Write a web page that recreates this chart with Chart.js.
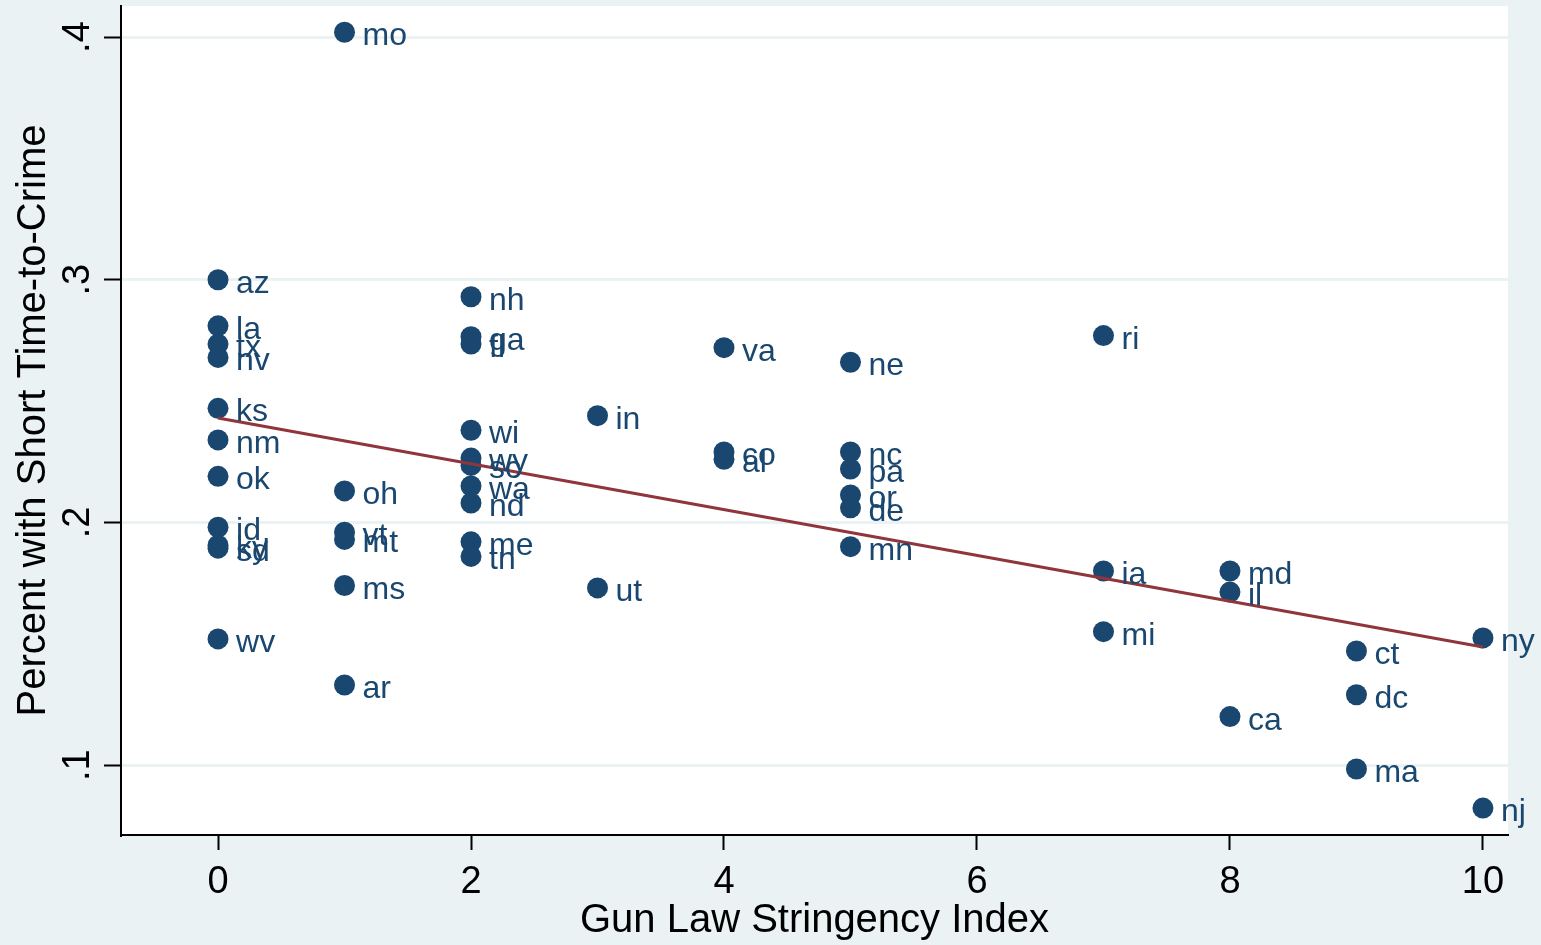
<!DOCTYPE html>
<html>
<head>
<meta charset="utf-8">
<script src="https://cdn.jsdelivr.net/npm/chart.js@4"></script>
<style>
  html, body { margin: 0; padding: 0; background: #eaf2f3; }
  #wrap { width: 1541px; height: 945px; }
</style>
</head>
<body>
<div id="wrap"><canvas id="chart" width="1541" height="945"></canvas></div>
<script>
// State abbreviations, gun law index and share with short time-to-crime
const states = ["az", "la", "tx", "nv", "ks", "nm", "ok", "id", "ky", "sd", "wv",
  "mo", "oh", "vt", "mt", "ms", "ar",
  "nh", "ga", "fl", "wi", "wy", "sc", "wa", "nd", "me", "tn",
  "in", "ut",
  "va", "co", "al",
  "ne", "nc", "pa", "or", "de", "mn",
  "ri", "ia", "mi",
  "md", "il", "ca",
  "ct", "dc", "ma",
  "ny", "nj"];
const lawIndex = [0, 0, 0, 0, 0, 0, 0, 0, 0, 0, 0,
  1, 1, 1, 1, 1, 1,
  2, 2, 2, 2, 2, 2, 2, 2, 2, 2,
  3, 3,
  4, 4, 4,
  5, 5, 5, 5, 5, 5,
  7, 7, 7,
  8, 8, 8,
  9, 9, 9,
  10, 10];
const shortTime = [0.300, 0.281, 0.2735, 0.268, 0.247, 0.234, 0.219, 0.198, 0.1906, 0.1894, 0.152,
  0.402, 0.213, 0.196, 0.193, 0.174, 0.133,
  0.293, 0.2765, 0.2735, 0.238, 0.2265, 0.2235, 0.215, 0.208, 0.192, 0.186,
  0.244, 0.173,
  0.272, 0.229, 0.226,
  0.266, 0.229, 0.222, 0.2113, 0.206, 0.190,
  0.277, 0.180, 0.155,
  0.180, 0.1713, 0.120,
  0.147, 0.129, 0.0984,
  0.1524, 0.0823];
// fitted line end points
const fitX = [0, 10];
const fitY = [0.243, 0.1487];
const xTicks = [0, 2, 4, 6, 8, 10];
const yTicks = [0.1, 0.2, 0.3, 0.4];

const navy = "#1a476f";
const maroon = "#90353b";
const bg = "#eaf2f3";
const font = "'Liberation Sans', Arial, sans-serif";

const fitPoints = fitX.map((x, i) => ({ x: x, y: fitY[i] }));
const points = lawIndex.map((x, i) => ({ x: x, y: shortTime[i] }));

// white plot region, labels, rotated y ticks and titles
const decorations = {
  id: "decorations",
  beforeDraw(chart) {
    const { ctx, chartArea } = chart;
    ctx.save();
    ctx.fillStyle = bg;
    ctx.fillRect(0, 0, chart.width, chart.height);
    ctx.fillStyle = "#ffffff";
    ctx.fillRect(chartArea.left, chartArea.top, chartArea.right - chartArea.left, chartArea.bottom - chartArea.top);
    ctx.restore();
  },
  afterDatasetsDraw(chart) {
    const { ctx, chartArea } = chart;
    const yScale = chart.scales.y;
    ctx.save();

    // marker labels
    ctx.fillStyle = navy;
    ctx.font = "32px " + font;
    ctx.textAlign = "left";
    ctx.textBaseline = "alphabetic";
    const meta = chart.getDatasetMeta(1);
    meta.data.forEach((pt, i) => {
      ctx.fillText(states[i], pt.x + 18, pt.y + 13);
    });

    // y tick labels, rotated
    ctx.fillStyle = "#000000";
    ctx.font = "38px " + font;
    ctx.textAlign = "center";
    yTicks.forEach(v => {
      const py = yScale.getPixelForValue(v);
      ctx.save();
      ctx.translate(89, py);
      ctx.rotate(-Math.PI / 2);
      ctx.fillText(String(v).replace(/^0/, ""), 0, 0);
      ctx.restore();
    });

    // axis titles
    ctx.font = "40px " + font;
    ctx.fillText("Gun Law Stringency Index", (chartArea.left + chartArea.right) / 2, 932);
    ctx.save();
    ctx.translate(45, (chartArea.top + chartArea.bottom) / 2);
    ctx.rotate(-Math.PI / 2);
    ctx.fillText("Percent with Short Time-to-Crime", 0, 0);
    ctx.restore();

    ctx.restore();
  }
};

new Chart(document.getElementById("chart").getContext("2d"), {
  type: "scatter",
  data: {
    datasets: [
      {
        type: "line",
        label: "Fitted values",
        data: fitPoints,
        borderColor: maroon,
        borderWidth: 3,
        pointRadius: 0,
        fill: false,
      },
      {
        label: "Percent with Short Time-to-Crime",
        data: points,
        backgroundColor: navy,
        borderColor: navy,
        pointRadius: 10.5,
        pointBorderWidth: 0,
      },
    ],
  },
  options: {
    responsive: false,
    animation: false,
    devicePixelRatio: 1,
    layout: { autoPadding: false, padding: { top: 6, right: 33, left: 0, bottom: 0 } },
    plugins: {
      legend: { display: false },
      tooltip: { enabled: false },
    },
    scales: {
      x: {
        type: "linear",
        min: -0.767,
        max: 10.198,
        afterBuildTicks: (scale) => { scale.ticks = xTicks.map(v => ({ value: v })); },
        afterFit: (scale) => { scale.height = 110; },
        ticks: {
          color: "#000000",
          font: { family: font, size: 38 },
          padding: 10,
          maxRotation: 0,
        },
        grid: {
          drawOnChartArea: false,
          drawTicks: true,
          tickLength: 15,
          tickColor: "#000000",
          tickWidth: 2,
        },
        border: { display: true, color: "#000000", width: 2 },
      },
      y: {
        type: "linear",
        min: 0.0712,
        max: 0.4128,
        afterBuildTicks: (scale) => { scale.ticks = yTicks.map(v => ({ value: v })); },
        afterFit: (scale) => { scale.width = 121; },
        ticks: { display: false },
        grid: {
          color: bg,
          lineWidth: 3,
          drawTicks: true,
          tickLength: 17,
          tickColor: "#000000",
          tickWidth: 2,
        },
        border: { display: true, color: "#000000", width: 2 },
      },
    },
  },
  plugins: [decorations],
});
</script>
</body>
</html>
